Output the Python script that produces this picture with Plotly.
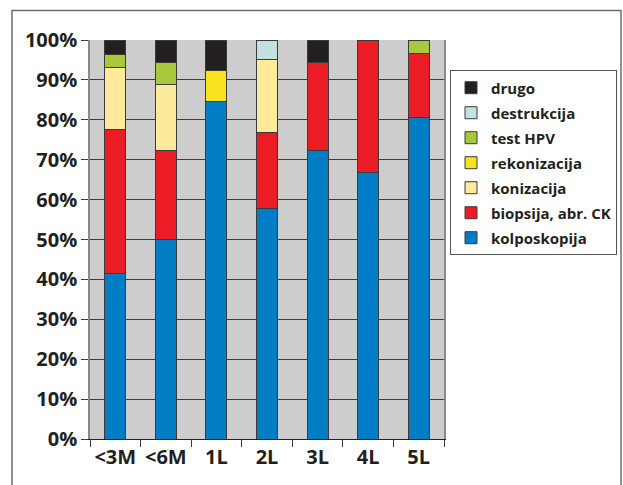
import plotly.graph_objects as go

# Follow-up procedures by time since the initial finding (share of cases, %)
categories = ["<3M", "<6M", "1L", "2L", "3L", "4L", "5L"]

kolposkopija = [41.5, 50.0, 84.6, 57.7, 72.2, 66.7, 80.6]
biopsija     = [36.1, 22.2, 0.0, 19.2, 22.2, 33.3, 16.1]
konizacija   = [15.5, 16.7, 0.0, 18.3, 0.0, 0.0, 0.0]
rekonizacija = [0.0, 0.0, 7.7, 0.0, 0.0, 0.0, 0.0]
test_hpv     = [3.3, 5.5, 0.0, 0.0, 0.0, 0.0, 3.3]
destrukcija  = [0.0, 0.0, 0.0, 4.8, 0.0, 0.0, 0.0]
drugo        = [3.6, 5.6, 7.7, 0.0, 5.6, 0.0, 0.0]

y_ticks = [0, 10, 20, 30, 40, 50, 60, 70, 80, 90, 100]

series = [
    ("kolposkopija", kolposkopija, "#007dc5"),
    ("biopsija, abr. CK", biopsija, "#ec1c24"),
    ("konizacija", konizacija, "#fdeb9b"),
    ("rekonizacija", rekonizacija, "#f8e11e"),
    ("test HPV", test_hpv, "#a9c93c"),
    ("destrukcija", destrukcija, "#c2e1e0"),
    ("drugo", drugo, "#231f20"),
]

W, H = 623, 485
L, R, T, B = 90, 444, 39.5, 439   # plot area in pixels

def px_x(x):
    return (x - L) / (R - L)

def px_y(y):
    return (B - y) / (B - T)

text_color = "#231f20"
font_family = "Open Sans"

fig = go.Figure()
for i, (name, vals, color) in enumerate(series):
    fig.add_trace(go.Bar(
        x=categories,
        y=vals,
        name=name,
        legendgroup=name,
        legendrank=len(series) - i,   # last stacked segment listed first
        marker=dict(color=color, line=dict(color="#3a3a3a", width=1)),
    ))

fig.update_layout(
    width=W,
    height=H,
    barmode="stack",
    bargap=0.585,
    paper_bgcolor="white",
    plot_bgcolor="#cdcdcd",
    margin=dict(l=L, r=W - R, t=T, b=H - B, pad=0, autoexpand=False),
    font=dict(family=font_family, color=text_color),
    showlegend=True,
    legend=dict(
        x=px_x(450),
        y=px_y(70),
        xanchor="left",
        yanchor="top",
        traceorder="grouped",
        tracegroupgap=2.5,
        bgcolor="white",
        bordercolor="#555555",
        borderwidth=1,
        font=dict(family=font_family, size=15, color=text_color, weight="bold"),
    ),
    shapes=[
        dict(
            type="rect", xref="paper", yref="paper",
            x0=px_x(12), x1=px_x(621), y0=px_y(10), y1=px_y(520),
            line=dict(color="#6d6d6d", width=1.5),
            fillcolor="rgba(0,0,0,0)", layer="below",
        )
    ],
)

fig.update_yaxes(
    range=[0, 100],
    tickvals=y_ticks,
    ticktext=[f"{v}%" for v in y_ticks],
    showgrid=True,
    gridcolor="#3c3c3c",
    gridwidth=1,
    zeroline=False,
    showline=True,
    linecolor="#8a8a8a",
    linewidth=1.5,
    mirror=True,
    ticks="outside",
    ticklen=7,
    tickwidth=1,
    tickcolor="#3c3c3c",
    tickfont=dict(family=font_family, size=20, color=text_color, weight="bold"),
)

fig.update_xaxes(
    showgrid=False,
    showline=True,
    linecolor="#222222",
    linewidth=1.2,
    ticks="outside",
    tickson="boundaries",
    ticklen=7,
    tickwidth=1,
    tickcolor="#3c3c3c",
    tickangle=0,
    tickfont=dict(family=font_family, size=20, color=text_color, weight="bold"),
)

fig.write_html("out.html")
